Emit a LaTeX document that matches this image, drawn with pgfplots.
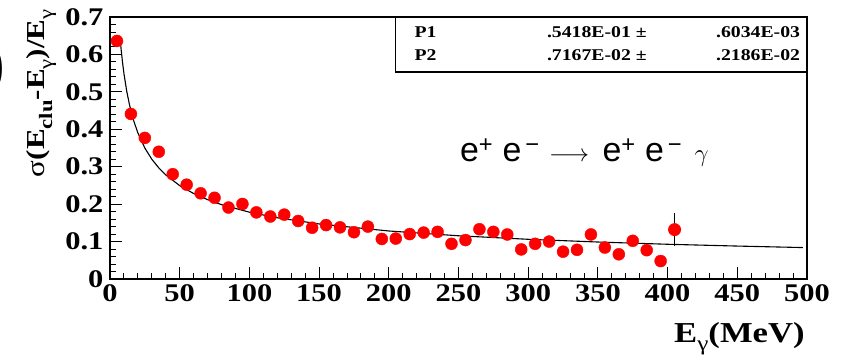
\documentclass[border=0pt]{standalone}
\usepackage{fontspec}
\setmainfont{Liberation Serif}[FakeStretch=1.2]
\newfontfamily\sansf{Liberation Sans}
\usepackage{pgfplots}
\pgfplotsset{compat=1.18}
\newcommand{\sub}[1]{\raisebox{-0.28em}{\fontsize{19}{19}\selectfont #1}}
\begin{document}
\begin{tikzpicture}
\useasboundingbox (-110bp,-78bp) rectangle (731bp,279bp);
\node[anchor=east, font=\fontsize{72}{72}\selectfont] at (-100bp,210bp) {)};
\begin{axis}[
  width=697bp, height=262bp, scale only axis,
  xmin=0, xmax=500, ymin=0, ymax=0.7,
  clip=false,
  xtick={0,50,100,150,200,250,300,350,400,450,500},
  xticklabels={0,50,100,150,200,250,300,350,400,450,500},
  ytick={0,0.1,0.2,0.3,0.4,0.5,0.6,0.7},
  yticklabels={0,0.1,0.2,0.3,0.4,0.5,0.6,0.7},
  minor x tick num=4, minor y tick num=4,
  tick pos=left, tick align=inside,
  major tick length=12bp, minor tick length=6bp,
  every tick/.style={black, line width=0.9bp},
  axis line style={line width=1.6bp},
  ticklabel style={font=\fontsize{25.5}{25.5}\selectfont\bfseries},
  xticklabel style={yshift=-2bp},
  yticklabel style={xshift=-3bp},
]
% fit curve: values of the fit drawn in the reference
\addplot[black, line width=1.1bp, no marks] coordinates {
(7.5,0.6328) (8,0.6129) (9,0.5783) (10,0.5490) (12,0.5018) (14,0.4651)
(17,0.4227) (20,0.3903) (25,0.3498) (30,0.3200) (35,0.2968) (40,0.2781)
(50,0.2495) (60,0.2284) (70,0.2120) (80,0.1987) (100,0.1785) (120,0.1636)
(150,0.1471) (200,0.1283) (250,0.1155) (300,0.1061) (350,0.0988)
(400,0.0928) (450,0.0880) (497,0.0840)
};
% data points
\addplot[only marks, mark=*, mark size=6bp, mark options={fill=red, draw=red}] coordinates {
(5,0.636) (15,0.441) (25,0.377) (35,0.340) (45,0.280) (55,0.252) (65,0.229)
(75,0.217) (85,0.191) (95,0.2005) (105,0.178) (115,0.167) (125,0.172)
(135,0.155) (145,0.137) (155,0.144) (165,0.138) (175,0.125) (185,0.140)
(195,0.107) (205,0.108) (215,0.120) (225,0.124) (235,0.126) (245,0.094)
(255,0.104) (265,0.133) (275,0.126) (285,0.119) (295,0.079) (305,0.094)
(315,0.100) (325,0.073) (335,0.078) (345,0.119) (355,0.084) (365,0.066)
(375,0.102) (385,0.077) (395,0.048)
};
% last point with visible error bar
\addplot[only marks, mark=*, mark size=6bp, mark options={fill=red, draw=red},
  black, line width=0.9bp,
  error bars/.cd, y dir=both, y explicit, error mark=none,
  error bar style={black, line width=0.9bp}] coordinates {
(405,0.132) +- (0,0.044)
};
% stats box
\draw[line width=1.2bp] (rel axis cs:0.410,1) -- (rel axis cs:0.410,0.790) -- (rel axis cs:1,0.790);
\node[anchor=west, font=\fontsize{16.5}{16.5}\selectfont\bfseries] at (rel axis cs:0.432,0.943) {P1};
\node[anchor=west, font=\fontsize{16.5}{16.5}\selectfont\bfseries] at (rel axis cs:0.432,0.855) {P2};
\node[anchor=east, font=\fontsize{16.5}{16.5}\selectfont\bfseries] at (rel axis cs:0.775,0.943) {.5418E-01 ±};
\node[anchor=east, font=\fontsize{16.5}{16.5}\selectfont\bfseries] at (rel axis cs:0.775,0.855) {.7167E-02 ±};
\node[anchor=east, font=\fontsize{16.5}{16.5}\selectfont\bfseries] at (rel axis cs:0.995,0.943) {.6034E-03};
\node[anchor=east, font=\fontsize{16.5}{16.5}\selectfont\bfseries] at (rel axis cs:0.995,0.855) {.2186E-02};
% reaction text
\node[anchor=base west, inner sep=0pt, font=\fontsize{34}{34}\sansf] at (axis cs:251,0.313)
  {e\textsuperscript{+} e\textsuperscript{\,−} $\longrightarrow$\hspace{4bp} e\textsuperscript{+} e\textsuperscript{\,−}\hspace{3bp} $\gamma$};
% axis labels
\node[rotate=90, anchor=base east, inner sep=0pt, font=\fontsize{26}{26}\selectfont\bfseries]
  at (rel axis cs:-0.0933,1.03)
  {\textmd{σ}(E\sub{clu}-E\sub{\textmd{γ}})/E\sub{\textmd{γ}}};
\node[anchor=base east, inner sep=0pt, font=\fontsize{29}{29}\selectfont\bfseries]
  at (rel axis cs:0.997,-0.244) {E\raisebox{-0.25em}{\fontsize{21}{21}\selectfont\mdseries γ}(MeV)};
\end{axis}
\end{tikzpicture}
\end{document}
